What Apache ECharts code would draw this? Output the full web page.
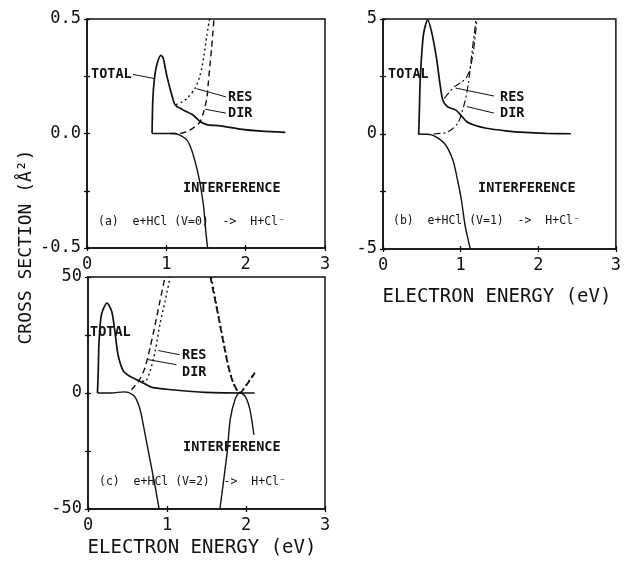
<!DOCTYPE html>
<html>
<head>
<meta charset="utf-8">
<script src="https://cdn.jsdelivr.net/npm/echarts@6/dist/echarts.min.js"></script>
<style>
html,body{margin:0;padding:0;background:#fff;}
#chart{width:624px;height:563px;}
</style>
</head>
<body>
<div id="chart"></div>
<script>
// ---------- DATA (x = electron energy in eV, y = cross section) ----------
const xTicks = [0, 1, 2, 3];

// Panel (a): e+HCl (V=0), y in Å²
const aTotal = [[0.82,0],[0.83,0.15],[0.85,0.24],[0.88,0.30],[0.93,0.341],[0.96,0.33],[1.005,0.254],[1.07,0.167],[1.11,0.126],[1.2,0.105],[1.34,0.08],[1.43,0.051],[1.51,0.039],[1.68,0.033],[1.93,0.019],[2.2,0.01],[2.5,0.005]];
const aRes   = [[1.12,0.126],[1.2,0.138],[1.26,0.153],[1.36,0.196],[1.425,0.254],[1.475,0.341],[1.51,0.427],[1.545,0.5]];
const aDir   = [[1.05,0],[1.15,0],[1.26,0.008],[1.36,0.029],[1.425,0.051],[1.47,0.094],[1.51,0.153],[1.53,0.225],[1.55,0.298],[1.57,0.37],[1.6,0.5]];
const aInt   = [[0.82,0],[1.1,0],[1.17,-0.007],[1.26,-0.029],[1.32,-0.073],[1.38,-0.146],[1.425,-0.218],[1.47,-0.32],[1.50,-0.436],[1.52,-0.5]];

// Panel (b): e+HCl (V=1)
const bTotal = [[0.46,0],[0.47,1.2],[0.48,2.42],[0.52,4.3],[0.575,4.96],[0.625,4.45],[0.69,3.29],[0.73,2.27],[0.77,1.48],[0.83,1.19],[0.94,1.04],[1.02,0.75],[1.08,0.53],[1.17,0.39],[1.33,0.25],[1.58,0.14],[1.83,0.07],[2.1,0.03],[2.42,0.01]];
const bRes   = [[0.79,1.55],[0.92,2.06],[1.02,2.27],[1.08,2.49],[1.125,2.86],[1.17,3.73],[1.21,5]];
const bDir   = [[0.65,0],[0.8,0.05],[0.875,0.17],[0.96,0.45],[1.0,0.75],[1.06,1.48],[1.10,2.2],[1.15,3.65],[1.2,5]];
const bInt   = [[0.45,0],[0.625,-0.04],[0.79,-0.4],[0.9,-1.13],[0.96,-2.0],[1.01,-2.87],[1.06,-4.03],[1.125,-5]];

// Panel (c): e+HCl (V=2)
const cTotal   = [[0.12,0],[0.13,10],[0.14,22.3],[0.17,33.8],[0.24,38.8],[0.30,35.2],[0.34,26.6],[0.38,16.5],[0.45,9.3],[0.53,7.2],[0.62,5.7],[0.70,4.3],[0.81,2.4],[1.06,1.4],[1.48,0.3],[2.11,0]];
const cResUp   = [[0.62,5.5],[0.72,5.0],[0.785,9.3],[0.85,18],[0.91,29.5],[0.975,39.5],[1.04,50]];
const cDirUp   = [[0.55,1.4],[0.64,5.0],[0.72,10.8],[0.785,19.4],[0.85,29.5],[0.91,39.5],[0.975,50]];
const cResDown = [[1.55,50],[1.65,33],[1.73,19],[1.78,11],[1.84,4.3],[1.92,0],[2.01,3.6],[2.11,8.6]];
const cDirDown = [[1.56,50],[1.65,33.5],[1.73,19.5],[1.78,11],[1.84,4.3],[1.92,0],[2.01,3.8],[2.11,8.8]];
const cIntLow  = [[0.12,0],[0.3,0],[0.45,0.5],[0.51,0.3],[0.59,-1.5],[0.66,-7.2],[0.72,-17.3],[0.785,-28.8],[0.85,-40.3],[0.9,-50]];
const cIntHigh = [[1.67,-50],[1.76,-26],[1.80,-11.5],[1.86,-2.9],[1.92,0.3],[1.99,-1.5],[2.05,-7.2],[2.10,-18]];

// axis ranges [min, max, tick step]
const aY = [-0.5, 0.5, 0.25];
const bY = [-5, 5, 2.5];
const cY = [-50, 50, 25];

// ---------- CHART ----------
const FONT = 'DejaVu Sans Mono';
const BLACK = '#111';
const chart = echarts.init(document.getElementById('chart'), null, {renderer: 'canvas'});

const grids = [
  {left: 87, top: 19, width: 238, height: 229},
  {left: 383, top: 19, width: 239, height: 230},
  {left: 88, top: 277, width: 237, height: 232}
].map(g => Object.assign(g, {show: true, borderColor: BLACK, borderWidth: 1.5, backgroundColor: 'transparent', containLabel: false}));

function xAxes(gi) {
  return [
    {type: 'value', gridIndex: gi, position: 'bottom', min: xTicks[0], max: xTicks[xTicks.length-1], interval: 1,
     axisLine: {show: true, onZero: false, lineStyle: {color: BLACK, width: 1.5}},
     axisTick: {show: true, inside: false, length: 3, lineStyle: {color: BLACK, width: 1.3}},
     axisLabel: {show: true, color: BLACK, fontFamily: FONT, fontSize: 17, margin: 8},
     splitLine: {show: false}},
    {type: 'value', gridIndex: gi, position: 'bottom', min: xTicks[0], max: xTicks[xTicks.length-1], interval: 1,
     axisLine: {show: false, onZero: false}, axisLabel: {show: false}, splitLine: {show: false},
     axisTick: {show: true, inside: true, length: 3, lineStyle: {color: BLACK, width: 1.3}}}
  ];
}
function yAxes(gi, r, fmt) {
  return [
    {type: 'value', gridIndex: gi, position: 'left', min: r[0], max: r[1], interval: r[2],
     axisLine: {show: true, onZero: false, lineStyle: {color: BLACK, width: 1.5}},
     axisTick: {show: true, inside: false, length: 3, lineStyle: {color: BLACK, width: 1.3}},
     axisLabel: {show: true, color: BLACK, fontFamily: FONT, fontSize: 17, margin: 6, formatter: fmt},
     splitLine: {show: false}},
    {type: 'value', gridIndex: gi, position: 'left', min: r[0], max: r[1], interval: r[2],
     axisLine: {show: false, onZero: false}, axisLabel: {show: false}, splitLine: {show: false},
     axisTick: {show: true, inside: true, length: 3, lineStyle: {color: BLACK, width: 1.3}}}
  ];
}
const major = (v, step) => Math.abs(v / step - Math.round(v / step)) < 1e-6;
const fmtA = v => major(v, 0.5) ? v.toFixed(1) : '';
const fmtB = v => major(v, 5) ? String(v) : '';
const fmtC = v => major(v, 50) ? String(v) : '';

const xAxis = [...xAxes(0), ...xAxes(1), ...xAxes(2)];
const yAxis = [...yAxes(0, aY, fmtA), ...yAxes(1, bY, fmtB), ...yAxes(2, cY, fmtC)];

const DOT = [2, 3], DASH = [6, 4], DASHDOT = [7, 3, 2, 3];
function line(name, data, gi, type, width) {
  return {name, type: 'line', data, xAxisIndex: gi * 2, yAxisIndex: gi * 2,
    showSymbol: false, symbol: 'none', smooth: 0.25, clip: true, silent: true,
    lineStyle: {color: BLACK, width: width || 1.3, type: type || 'solid'}};
}
function arrows(list) {
  return {silent: true, symbol: ['none', 'arrow'], symbolSize: [0, 7], animation: false,
    label: {show: false}, lineStyle: {color: BLACK, width: 1, type: 'solid'},
    data: list.map(p => [{coord: p[0]}, {coord: p[1]}])};
}

const series = [
  Object.assign(line('TOTAL', aTotal, 0, 'solid', 1.7), {markLine: arrows([
    [[0.58, 0.258], [0.85, 0.24]],
    [[1.75, 0.16], [1.38, 0.196]],
    [[1.75, 0.089], [1.49, 0.106]]])}),
  line('RES', aRes, 0, DOT, 1.4),
  line('DIR', aDir, 0, DASH, 1.4),
  line('INTERFERENCE', aInt, 0, 'solid', 1.4),

  Object.assign(line('TOTAL', bTotal, 1, 'solid', 1.7), {markLine: arrows([
    [[1.43, 1.65], [0.935, 2.0]],
    [[1.43, 0.91], [1.08, 1.19]]])}),
  line('RES', bRes, 1, DASHDOT, 1.2),
  line('DIR', bDir, 1, DASHDOT, 1.2),
  line('INTERFERENCE', bInt, 1, 'solid', 1.4),

  Object.assign(line('TOTAL', cTotal, 2, 'solid', 1.7), {markLine: arrows([
    [[1.16, 16.5], [0.89, 18.3]],
    [[1.12, 12.2], [0.76, 14.4]]])}),
  line('RES', cResUp, 2, DOT, 1.4),
  line('DIR', cDirUp, 2, DASH, 1.4),
  line('RES', cResDown, 2, DASH, 1.8),
  line('DIR', cDirDown, 2, DOT, 1.8),
  line('INTERFERENCE', cIntLow, 2, 'solid', 1.4),
  line('INTERFERENCE', cIntHigh, 2, 'solid', 1.4)
];

function txt(text, x, y, size, opts) {
  return Object.assign({type: 'text', x, y, silent: true,
    style: Object.assign({text, fill: BLACK, font: (opts && opts.weight ? opts.weight + ' ' : '') + size + 'px "' + FONT + '"',
      textAlign: 'left', textVerticalAlign: 'middle'}, opts && opts.style)}, opts && opts.el);
}
const LBL = 13.5, PAN = 11.5, B = {weight: 'bold'};
const graphic = [
  // panel (a)
  txt('TOTAL', 91, 74, LBL, B),
  txt('RES', 228, 97, LBL, B),
  txt('DIR', 228, 113, LBL, B),
  txt('INTERFERENCE', 183, 188, LBL, B),
  txt('(a)  e+HCl (V=0)  ->  H+Cl\u207B', 98, 222, PAN),
  // panel (b)
  txt('TOTAL', 388, 74, LBL, B),
  txt('RES', 500, 97, LBL, B),
  txt('DIR', 500, 113, LBL, B),
  txt('INTERFERENCE', 478, 188, LBL, B),
  txt('(b)  e+HCl (V=1)  ->  H+Cl\u207B', 393, 221, PAN),
  // panel (c)
  txt('TOTAL', 90, 332, LBL, B),
  txt('RES', 182, 355, LBL, B),
  txt('DIR', 182, 372, LBL, B),
  txt('INTERFERENCE', 183, 447, LBL, B),
  txt('(c)  e+HCl (V=2)  ->  H+Cl\u207B', 99, 482, PAN),
  // axis titles
  txt('ELECTRON ENERGY (eV)', 497, 297, 19, {style: {textAlign: 'center'}}),
  txt('ELECTRON ENERGY (eV)', 202, 548, 19, {style: {textAlign: 'center'}}),
  txt('CROSS SECTION (\u00C5\u00B2)', 26, 247, 18, {style: {textAlign: 'center'}, el: {rotation: Math.PI / 2}})
];

chart.setOption({
  animation: false,
  backgroundColor: '#fff',
  grid: grids,
  xAxis, yAxis, series, graphic
});
</script>
</body>
</html>
